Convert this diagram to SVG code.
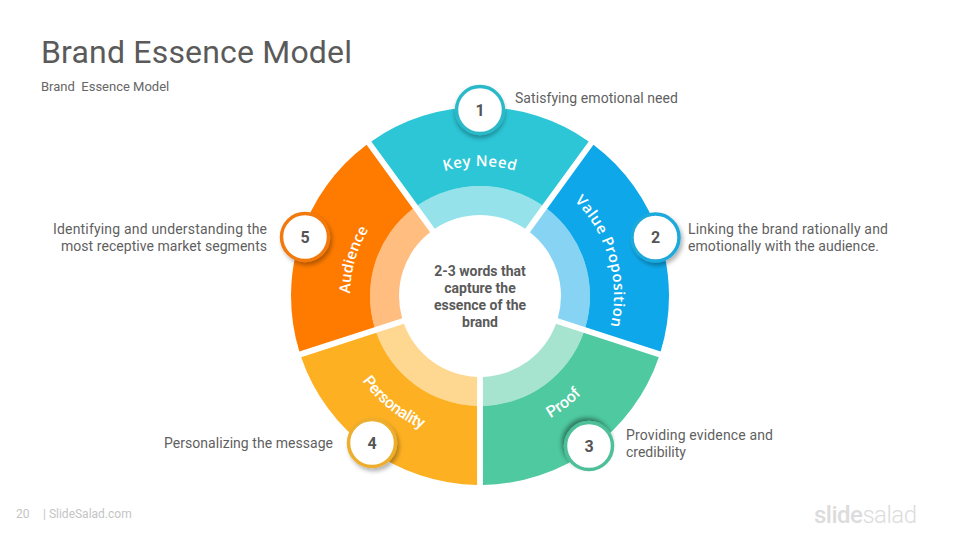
<svg xmlns="http://www.w3.org/2000/svg" width="960" height="540" viewBox="0 0 960 540">
<style>
text{font-family:Roboto,"Liberation Sans",sans-serif}
.title{font-size:32px;fill:#5a5a5a}
.sub{font-size:13px;fill:#666;white-space:pre}
.foot{font-size:12px;fill:#c4c4c4}
.desc{font-size:14px;fill:#5f5f5f}
.center{font-size:14px;font-weight:700;fill:#5a5a5a;text-anchor:middle}
.arc{font-size:16px;font-weight:500;fill:#fff;text-anchor:middle}
.arc2{font-family:"Open Sans",Roboto,sans-serif;font-size:15px;font-weight:600;fill:#fff;text-anchor:middle}
.num{font-size:16px;font-weight:700;fill:#555;text-anchor:middle}
.disc{fill:#fff;stroke-width:3.5}
.end{text-anchor:end}
</style>
<defs>
<path id="seg" d="M-108.7-154.6A189 189 0 0 1 108.7-154.6L62.2-90.7A110 110 0 0 0-62.2-90.7Z"/>
<path id="band" d="M-62.2-90.7A110 110 0 0 1 62.2-90.7L45.2-67.2A81 81 0 0 0-45.2-67.2Z" fill-opacity=".5"/>
<path id="a1" d="M367.4 231A130 130 0 0 1 592.6 231"/>
<path id="a2" d="M512.400 166A134 134 0 0 1 576.400 389.100"/>
<path id="a3" d="M427.100 426.700A141 141 0 0 0 619.600 276.400"/>
<path id="a4" d="M336.800 273.300A145 145 0 0 0 531.900 431.400"/>
<path id="a5" d="M386.500 386.300A130 130 0 0 1 448.500 169.900"/>
<filter id="s1" x="-40%" y="-40%" width="180%" height="180%"><feDropShadow dx="0" dy="3" stdDeviation="2" flood-opacity=".3"/></filter>
<filter id="s2" x="-40%" y="-40%" width="180%" height="180%"><feDropShadow dx="2" dy="3" stdDeviation="2" flood-opacity=".3"/></filter>
<filter id="s3" x="-40%" y="-40%" width="180%" height="180%"><feDropShadow dx="-2" dy="-3" stdDeviation="2" flood-opacity=".4"/></filter>
</defs>
<text class="title" x="41" y="63" textLength="311">Brand Essence Model</text>
<text class="sub" x="41" y="91" xml:space="preserve">Brand  Essence Model</text>
<g id="connectors"/>
<g id="node-1">
<g transform="translate(480 296)" fill="#2cc6d6"><use href="#seg"/><use href="#band"/></g>
<text class="arc2" style="letter-spacing:.5px"><textPath href="#a1" startOffset="50%">Key Need</textPath></text>
<circle class="disc" cx="480" cy="110" r="23.5" stroke="#2bb9c9" filter="url(#s1)"/>
<text class="num" x="480" y="115.500">1</text>
<text class="desc" x="515" y="103" textLength="163">Satisfying emotional need</text>
</g>
<g id="node-2">
<g transform="translate(480 296) rotate(72)" fill="#0ea8ea"><use href="#seg"/><use href="#band"/></g>
<text class="arc2" style="letter-spacing:.5px"><textPath href="#a2" startOffset="50%">Value Proposition</textPath></text>
<circle class="disc" cx="655.500" cy="237.500" r="23.500" stroke="#1fa9dc" filter="url(#s2)"/>
<text class="num" x="655.500" y="242.500">2</text>
<text class="desc" x="688" y="234" textLength="200">Linking the brand rationally and</text>
<text class="desc" x="688" y="251" textLength="191">emotionally with the audience.</text>
</g>
<g id="node-3">
<g transform="translate(480 296) rotate(144)" fill="#4ec9a0"><use href="#seg"/><use href="#band"/></g>
<text class="arc"><textPath href="#a3" startOffset="50%">Proof</textPath></text>
<circle class="disc" cx="589" cy="446" r="23.500" stroke="#4dbf99" filter="url(#s3)"/>
<text class="num" x="589" y="451.500">3</text>
<text class="desc" x="626" y="440" textLength="147">Providing evidence and</text>
<text class="desc" x="626" y="457">credibility</text>
</g>
<g id="node-4">
<g transform="translate(480 296) rotate(216)" fill="#fdb022"><use href="#seg"/><use href="#band"/></g>
<text class="arc" style="letter-spacing:-.3px"><textPath href="#a4" startOffset="50%">Personality</textPath></text>
<circle class="disc" cx="372" cy="443" r="23.500" stroke="#edae2e" filter="url(#s2)"/>
<text class="num" x="372" y="448.500">4</text>
<text class="desc" x="164" y="448" textLength="169">Personalizing the message</text>
</g>
<g id="node-5">
<g transform="translate(480 296) rotate(288)" fill="#ff7b00"><use href="#seg"/><use href="#band"/></g>
<text class="arc2"><textPath href="#a5" startOffset="50%">Audience</textPath></text>
<circle class="disc" cx="305" cy="237" r="23.500" stroke="#f27a0c" filter="url(#s2)"/>
<text class="num" x="305" y="242.500">5</text>
<text class="desc" x="53" y="234" textLength="214">Identifying and understanding the</text>
<text class="desc" x="61" y="251" textLength="206">most receptive market segments</text>
</g>
<g id="node-center">
<text class="center" x="480" y="276">2-3 words that</text>
<text class="center" x="480" y="293">capture the</text>
<text class="center" x="480" y="310">essence of the</text>
<text class="center" x="480" y="327">brand</text>
</g>
<text class="foot" x="16" y="518">20</text>
<text class="foot" x="43" y="518">| SlideSalad.com</text>
<text x="814" y="523" textLength="103" style="font-size:24px;fill:#dcdcdc"><tspan font-weight="500">slide</tspan><tspan font-weight="300">salad</tspan></text>
</svg>
